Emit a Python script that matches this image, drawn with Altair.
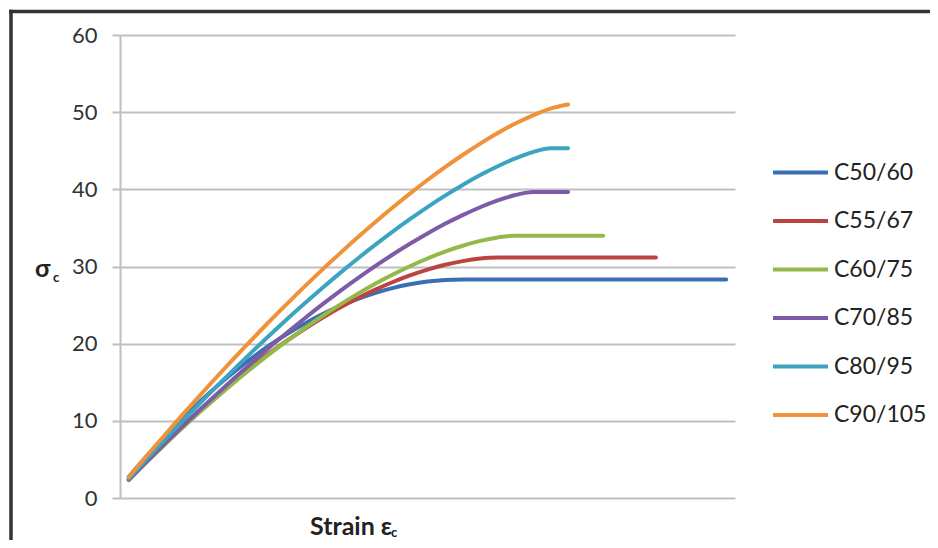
import altair as alt
import pandas as pd

# ---------------- data ----------------
strain = [0.1, 0.2, 0.3, 0.4, 0.5, 0.6, 0.7, 0.8, 0.9, 1.0,
          1.1, 1.2, 1.3, 1.4, 1.5, 1.6, 1.7, 1.8, 1.9, 2.0,
          2.1, 2.2, 2.3, 2.4, 2.5, 2.6, 2.7, 2.8, 2.9, 3.0,
          3.1, 3.2, 3.3, 3.4, 3.5]

series_names = ["C50/60", "C55/67", "C60/75", "C70/85", "C80/95", "C90/105"]

c50_60 = [2.76, 5.38, 7.86, 10.20, 12.39, 14.45, 16.36, 18.13, 19.76, 21.25,
          22.59, 23.80, 24.86, 25.78, 26.56, 27.20, 27.69, 28.05, 28.26, 28.33,
          28.33, 28.33, 28.33, 28.33, 28.33, 28.33, 28.33, 28.33, 28.33, 28.33,
          28.33, 28.33, 28.33, 28.33, 28.33]
c55_67 = [2.44, 4.79, 7.05, 9.23, 11.32, 13.32, 15.22, 17.04, 18.76, 20.38,
          21.90, 23.33, 24.65, 25.86, 26.97, 27.96, 28.84, 29.59, 30.22, 30.70,
          31.03, 31.17, 31.17, 31.17, 31.17, 31.17, 31.17, 31.17, 31.17, 31.17,
          31.17]
c60_75 = [2.33, 4.61, 6.81, 8.96, 11.03, 13.04, 14.98, 16.84, 18.64, 20.35,
          21.99, 23.55, 25.03, 26.42, 27.73, 28.93, 30.04, 31.04, 31.93, 32.69,
          33.32, 33.77, 34.00, 34.00, 34.00, 34.00, 34.00, 34.00]
c70_85 = [2.36, 4.67, 6.94, 9.16, 11.33, 13.45, 15.52, 17.54, 19.51, 21.41,
          23.26, 25.05, 26.77, 28.42, 30.01, 31.52, 32.94, 34.28, 35.53, 36.66,
          37.68, 38.56, 39.26, 39.67, 39.67, 39.67]
c80_95 = [2.52, 4.99, 7.43, 9.82, 12.16, 14.46, 16.71, 18.91, 21.06, 23.16,
          25.20, 27.18, 29.11, 30.97, 32.76, 34.49, 36.13, 37.70, 39.18, 40.57,
          41.85, 43.00, 44.01, 44.83, 45.33, 45.33]
c90_105 = [2.72, 5.41, 8.04, 10.64, 13.18, 15.68, 18.13, 20.52, 22.87, 25.15,
           27.39, 29.56, 31.67, 33.72, 35.70, 37.62, 39.45, 41.21, 42.88, 44.45,
           45.93, 47.29, 48.52, 49.59, 50.47, 51.00]

y_ticks = [0, 10, 20, 30, 40, 50, 60]
series_colors = ["#3C6EB4", "#BC4440", "#93B948", "#7D5BA6", "#3CA4C0", "#F0923A"]

x_title = "Strain ε"
y_title = "σ"
sub_c = "c"

# ---------------- build table ----------------
rows = []
for k, (name, vals) in enumerate(zip(series_names,
                                     [c50_60, c55_67, c60_75, c70_85, c80_95, c90_105])):
    for i, v in enumerate(vals):
        rows.append({"series": name, "strain": strain[i], "stress": v, "k": k})
df = pd.DataFrame(rows)

FONT = "Lato"
GRID = "#BFBFBF"

lines = alt.Chart(df).mark_line(
    strokeWidth=4, strokeCap="round", strokeJoin="round", interpolate="monotone"
).encode(
    x=alt.X("strain:Q",
            scale=alt.Scale(domain=[0.05, 3.55], nice=False, zero=False),
            axis=alt.Axis(title=None, labels=False, ticks=False, domain=False, grid=False)),
    y=alt.Y("stress:Q",
            scale=alt.Scale(domain=[0, 60], nice=False),
            axis=alt.Axis(values=y_ticks, title=None, grid=True, gridColor=GRID, gridWidth=2,
                          domainColor=GRID, domainWidth=2, tickColor=GRID, tickWidth=2,
                          tickSize=8, labelPadding=15, labelFont=FONT, labelFontSize=22,
                          labelColor="#333333")),
    color=alt.Color("series:N",
                    scale=alt.Scale(domain=series_names, range=series_colors),
                    legend=alt.Legend(title=None, orient="none", legendX=651, legendY=108,
                                      symbolType="stroke", symbolSize=3025,
                                      symbolStrokeWidth=4, labelFont=FONT, labelFontSize=23,
                                      labelColor="#222222", labelOffset=4, rowPadding=6.5,
                                      padding=0)),
    detail="k:O",
)

one = pd.DataFrame({"z": [0]})

border_top = alt.Chart(one).mark_rule(color="#333333", strokeWidth=3.5).encode(
    x=alt.value(-111), x2=alt.value(830), y=alt.value(-23.5))
border_left = alt.Chart(one).mark_rule(color="#333333", strokeWidth=3.5).encode(
    x=alt.value(-109), y=alt.value(-25.2), y2=alt.value(540))

xt = alt.Chart(one).mark_text(font=FONT, fontSize=25, fontWeight="bold", color="#222222",
                              align="left", baseline="alphabetic").encode(
    x=alt.value(190), y=alt.value(500), text=alt.value(x_title))
xt_sub = alt.Chart(one).mark_text(font=FONT, fontSize=13, fontWeight="bold", color="#222222",
                                  align="left", baseline="alphabetic").encode(
    x=alt.value(271), y=alt.value(502), text=alt.value(sub_c))
yt = alt.Chart(one).mark_text(font=FONT, fontSize=25, fontWeight="bold", color="#222222",
                              align="left", baseline="alphabetic").encode(
    x=alt.value(-85), y=alt.value(242), text=alt.value(y_title))
yt_sub = alt.Chart(one).mark_text(font=FONT, fontSize=13, fontWeight="bold", color="#222222",
                                  align="left", baseline="alphabetic").encode(
    x=alt.value(-67), y=alt.value(247), text=alt.value(sub_c))

chart = alt.layer(lines, border_top, border_left, xt, xt_sub, yt, yt_sub).properties(
    width=615, height=463,
    autosize=alt.AutoSizeParams(type="none"),
    padding={"left": 112, "top": 27, "right": 195, "bottom": 42},
    background="white",
).configure_view(stroke=None)

chart.save("out.html", embed_options={"renderer": "svg", "actions": False})
